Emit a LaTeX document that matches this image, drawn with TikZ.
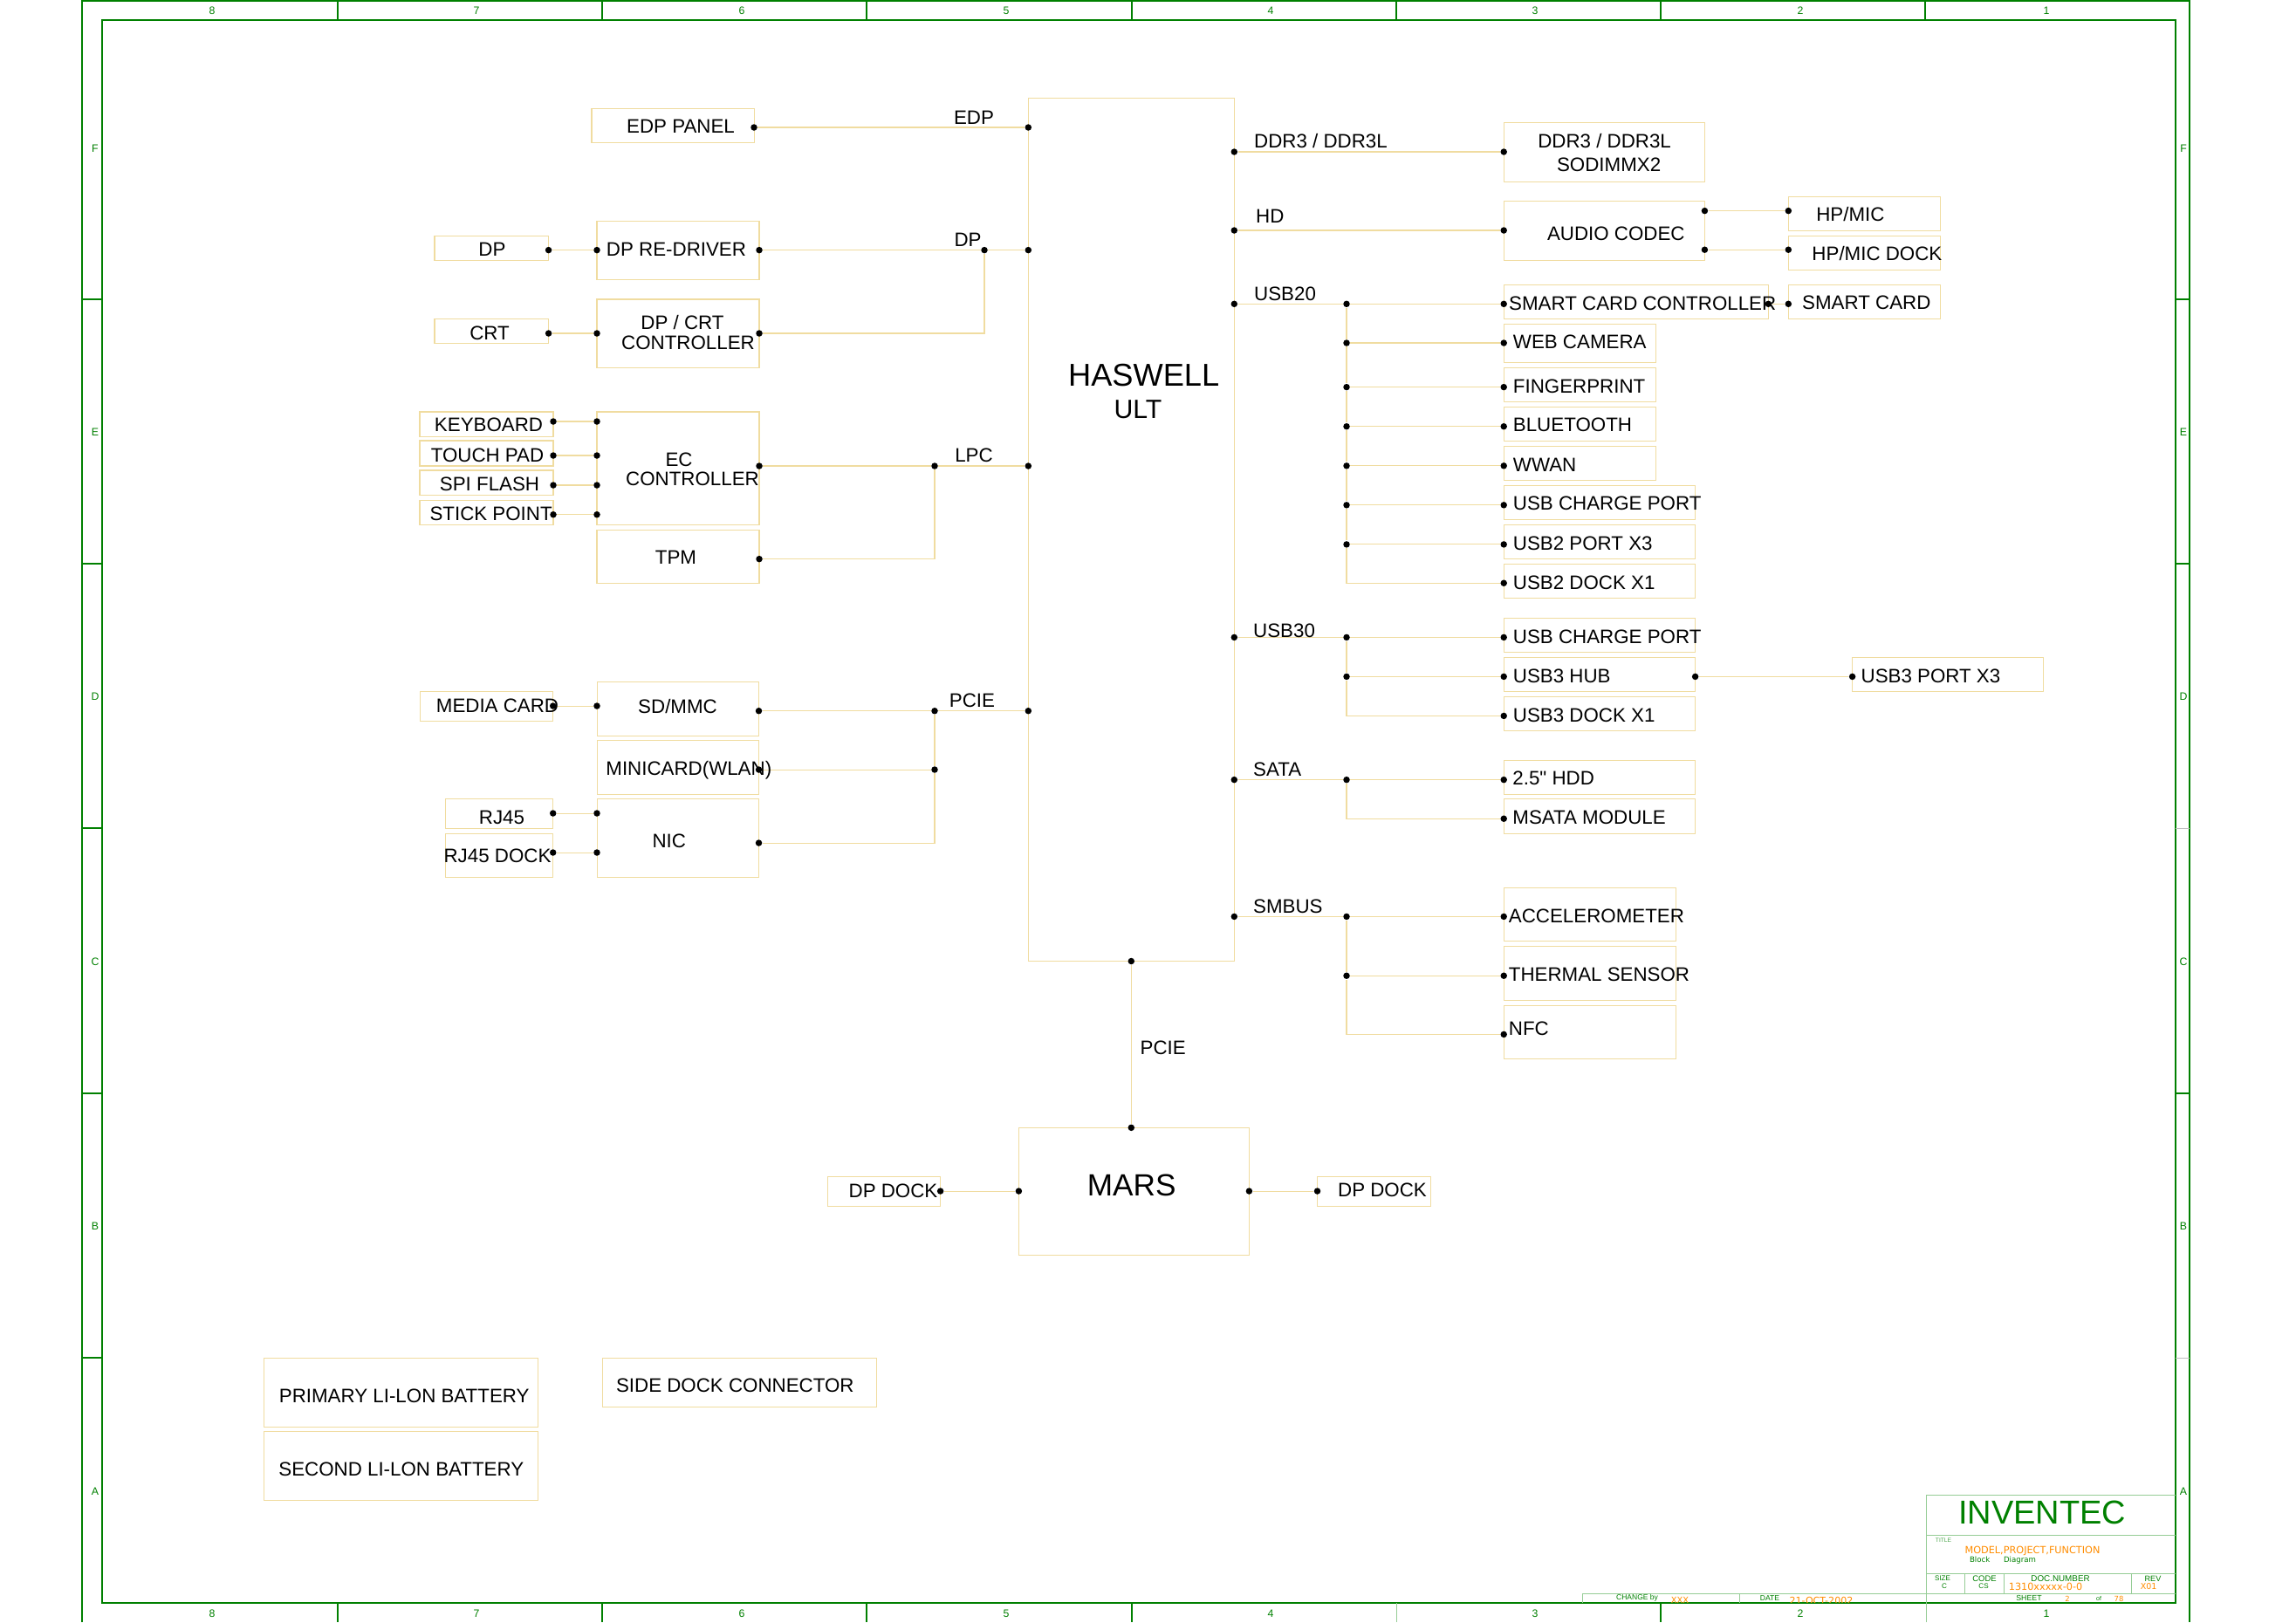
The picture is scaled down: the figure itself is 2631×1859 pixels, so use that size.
\documentclass[tikz,border=0pt]{standalone}
\usepackage{fontspec}
\setmainfont{Liberation Sans}
\newfontfamily\wideface{DejaVu Sans}
\usetikzlibrary{
    fit,
    positioning
}
\definecolor{framegreen}{RGB}{0,128,0}
\definecolor{titleline}{RGB}{150,205,150}
\definecolor{wirecolor}{RGB}{240,220,160}
\definecolor{fieldorange}{RGB}{255,140,0}
\tikzset{
    wire/.style={draw=wirecolor, line width=0.3pt},
    blockbox/.style={draw=wirecolor, line width=0.3pt, inner sep=0pt, rectangle},
    dotmark/.style={circle, fill=black, inner sep=0pt, minimum size=0.075cm},
    lbl/.style={inner sep=0pt, yshift=-0.015cm, font=\fontsize{6.35}{7.7}\selectfont},
    lblwest/.style={lbl, anchor=west, xshift=-0.015cm},
    bigtext/.style={inner sep=0pt, yshift=-0.015cm, font=\fontsize{10.3}{12}\selectfont},
    gridmark/.style={inner sep=0pt, text=framegreen, font=\fontsize{3.5}{4}\selectfont},
    titletext/.style={inner sep=0pt, text=framegreen, font=\fontsize{2.6}{3}\selectfont},
    fieldtext/.style={inner sep=0pt, text=fieldorange, font=\wideface\fontsize{3.1}{3.6}\selectfont}
}
\begin{document}
\begin{tikzpicture}[x=0.01cm, y=-0.01cm]
    \useasboundingbox (0,0) rectangle (2631,1859);
    % sheet frame
    \draw[framegreen, line width=0.68pt] (94,1859) -- (94,1) -- (2509,1) -- (2509,1859);
    \draw[framegreen, line width=0.55pt] (117,23) rectangle (2493,1837);
    \draw[framegreen, line width=0.48pt] (387,0) -- (387,23) (690,0) -- (690,23) (993,0) -- (993,23) (1297,0) -- (1297,23) (1600,0) -- (1600,23) (1903,0) -- (1903,23) (2206,0) -- (2206,23);
    \draw[framegreen, line width=0.48pt] (387,1837) -- (387,1859) (690,1837) -- (690,1859) (993,1837) -- (993,1859) (1297,1837) -- (1297,1859) (1903,1837) -- (1903,1859);
    \draw[titleline, line width=0.2pt] (1600,1837) -- (1600,1859);
    \draw[framegreen, line width=0.48pt] (94,343) -- (117,343) (94,646) -- (117,646) (94,949) -- (117,949) (94,1253) -- (117,1253) (94,1556) -- (117,1556);
    \draw[framegreen, line width=0.48pt] (2493,646) -- (2509,646) (2493,1253) -- (2509,1253);
    \draw[framegreen, line width=0.3pt] (2493,343) -- (2509,343);
    \draw[gray!50, line width=0.2pt] (2493,949) -- (2509,949) (2493,1556) -- (2509,1556);
    % grid marks
    \node[gridmark] (top8) at (243,12) {8};
    \node[gridmark] (top7) at (546,12) {7};
    \node[gridmark] (top6) at (850,12) {6};
    \node[gridmark] (top5) at (1153,12) {5};
    \node[gridmark] (top4) at (1456,12) {4};
    \node[gridmark] (top3) at (1759,12) {3};
    \node[gridmark] (top2) at (2063,12) {2};
    \node[gridmark] (top1) at (2345,12) {1};
    \node[gridmark] (bot8) at (243,1849) {8};
    \node[gridmark] (bot7) at (546,1849) {7};
    \node[gridmark] (bot6) at (850,1849) {6};
    \node[gridmark] (bot5) at (1153,1849) {5};
    \node[gridmark] (bot4) at (1456,1849) {4};
    \node[gridmark] (bot3) at (1759,1849) {3};
    \node[gridmark] (bot2) at (2063,1849) {2};
    \node[gridmark] (bot1) at (2345,1849) {1};
    \node[gridmark] (leftF) at (109,170) {F};
    \node[gridmark] (leftE) at (109,495) {E};
    \node[gridmark] (leftD) at (109,798) {D};
    \node[gridmark] (leftC) at (109,1102) {C};
    \node[gridmark] (leftB) at (109,1405) {B};
    \node[gridmark] (leftA) at (109,1709) {A};
    \node[gridmark] (rightF) at (2502,170) {F};
    \node[gridmark] (rightE) at (2502,495) {E};
    \node[gridmark] (rightD) at (2502,798) {D};
    \node[gridmark] (rightC) at (2502,1102) {C};
    \node[gridmark] (rightB) at (2502,1405) {B};
    \node[gridmark] (rightA) at (2502,1709) {A};
    % title block
    \draw[titleline, line width=0.3pt] (2207,1859) -- (2207,1713) -- (2493,1713) (2207,1759) -- (2493,1759) (2207,1803) -- (2493,1803) (1813,1826) -- (2493,1826);
    \draw[titleline, line width=0.3pt] (2251,1803) -- (2251,1826) (2296,1803) -- (2296,1826) (2442,1803) -- (2442,1826) (1813,1826) -- (1813,1837) (1993,1826) -- (1993,1837);
    \node[titletext, font=\fontsize{10.8}{13}\selectfont] (inventec) at (2340,1733) {INVENTEC};
    \node[titletext, font=\fontsize{1.9}{2.3}\selectfont, opacity=0.7] (titlehead) at (2227,1765) {TITLE};
    \node[fieldtext, font=\wideface\fontsize{3.2}{3.8}\selectfont] (titlefield) at (2329,1777) {MODEL,PROJECT,FUNCTION};
    \node[titletext, font=\wideface\fontsize{2.45}{3}\selectfont] (titlename) at (2295,1788) {Block\hspace{0.157cm}Diagram};
    \node[titletext, font=\fontsize{2.3}{2.8}\selectfont] (sizehead) at (2226,1809) {SIZE};
    \node[titletext, font=\fontsize{2.3}{2.8}\selectfont] (sizefield) at (2228,1818) {C};
    \node[titletext, font=\fontsize{2.7}{3.2}\selectfont] (codehead) at (2274,1809) {CODE};
    \node[titletext, font=\fontsize{2.3}{2.8}\selectfont] (codefield) at (2273,1818) {CS};
    \node[titletext, font=\fontsize{2.8}{3.4}\selectfont] (dochead) at (2361,1809) {DOC.NUMBER};
    \node[fieldtext, font=\wideface\fontsize{3.2}{3.8}\selectfont] (docfield) at (2344,1818) {1310xxxxx-0-0};
    \node[titletext] (revhead) at (2467,1809) {REV};
    \node[fieldtext, font=\wideface\fontsize{2.7}{3.2}\selectfont] (revfield) at (2462,1818) {X01};
    \node[titletext, font=\fontsize{2.5}{3}\selectfont] (sheethead) at (2325,1831) {SHEET};
    \node[fieldtext, font=\wideface\fontsize{2.4}{3}\selectfont] (sheetno) at (2369,1832) {2};
    \node[titletext, font=\fontsize{2}{2.4}\selectfont] (sheetof) at (2405,1832) {of};
    \node[fieldtext, font=\wideface\fontsize{2.4}{3}\selectfont] (sheetall) at (2428,1832) {78};
    \node[titletext, font=\fontsize{2.42}{3}\selectfont] (changehead) at (1876,1831) {CHANGE by};
    \node[titletext, font=\fontsize{2.45}{3}\selectfont] (datehead) at (2028,1831) {DATE};
    \begin{scope}
        \clip (1813,1826) rectangle (2206,1836);
        \node[fieldtext, font=\wideface\fontsize{2.8}{3.4}\selectfont] (changefield) at (1925,1834) {XXX};
        \node[fieldtext, font=\wideface\fontsize{3.15}{3.8}\selectfont] (datefield) at (2087,1834) {21-OCT-2002};
    \end{scope}
    % blocks, left side
    \node[blockbox, fit={(678,124.5) (864.5,163.4)}] (edppanel) {};
    \node[blockbox, fit={(498,270.5) (628.6,298.7)}] (dpport) {};
    \node[blockbox, fit={(684,253.6) (870,320.5)}] (dpredriver) {};
    \node[blockbox, fit={(498,365.6) (628.6,393.8)}] (crtport) {};
    \node[blockbox, fit={(684,343) (870,421.4)}] (dpcrtctrl) {};
    \node[blockbox, fit={(481,472) (634,500.4)}] (keyboard) {};
    \node[blockbox, fit={(481,505) (634,534)}] (touchpad) {};
    \node[blockbox, fit={(481,539) (634,567.4)}] (spiflash) {};
    \node[blockbox, fit={(481,573.7) (634,601.3)}] (stickpoint) {};
    \node[blockbox, fit={(684,472) (870,601.3)}] (ecctrl) {};
    \node[blockbox, fit={(684,607.6) (870,668.3)}] (tpm) {};
    \node[blockbox, fit={(481.6,792.4) (633.7,826.3)}] (mediacard) {};
    \node[blockbox, fit={(684.5,781) (869.5,843.3)}] (sdmmc) {};
    \node[blockbox, fit={(684.5,848.7) (869.5,910.3)}] (minicard) {};
    \node[blockbox, fit={(684.5,915.6) (869.5,1005.4)}] (nic) {};
    \node[blockbox, fit={(510.7,915.6) (633.7,949.5)}] (rjport) {};
    \node[blockbox, fit={(510.7,955.4) (633.7,1005.4)}] (rjdock) {};
    % blocks, centre
    \node[blockbox, fit={(1178.3,112.3) (1414.3,1101.5)}] (haswell) {};
    \node[blockbox, fit={(1167.4,1292.3) (1431.4,1438.3)}] (mars) {};
    \node[blockbox, fit={(948.5,1348.7) (1077.6,1382.6)}] (dockleft) {};
    \node[blockbox, fit={(1509.5,1348.3) (1639.6,1382.3)}] (dockright) {};
    % blocks, right side
    \node[blockbox, fit={(1723.2,140.3) (1953.4,208.3)}] (sodimm) {};
    \node[blockbox, fit={(1723.2,230.5) (1953.4,298.5)}] (codec) {};
    \node[blockbox, fit={(2049.3,225.3) (2223.8,264.5)}] (hpmic) {};
    \node[blockbox, fit={(2049.3,270.4) (2223.8,309.6)}] (hpdock) {};
    \node[blockbox, fit={(1723.2,326.6) (2026.3,365.3)}] (smartctrl) {};
    \node[blockbox, fit={(2049.3,326.6) (2223.8,365.3)}] (smartcard) {};
    \node[blockbox, fit={(1723.2,371.3) (1897.7,415.5)}] (webcam) {};
    \node[blockbox, fit={(1723.2,421.5) (1897.7,460.2)}] (fingerprint) {};
    \node[blockbox, fit={(1723.2,466.5) (1897.7,505.3)}] (bluetooth) {};
    \node[blockbox, fit={(1723.2,511.2) (1897.7,550.4)}] (wwan) {};
    \node[blockbox, fit={(1723.2,556.3) (1942.6,595)}] (chargetwo) {};
    \node[blockbox, fit={(1723.2,601.4) (1942.6,640.5)}] (usbtwoport) {};
    \node[blockbox, fit={(1723.2,646.5) (1942.6,685.2)}] (usbtwodock) {};
    \node[blockbox, fit={(1723.2,708.2) (1942.6,747.5)}] (chargethree) {};
    \node[blockbox, fit={(1723.2,753.2) (1942.6,792.5)}] (usbhub) {};
    \node[blockbox, fit={(2122.6,753.2) (2341.3,792.5)}] (usbthreeport) {};
    \node[blockbox, fit={(1723.2,798.2) (1942.6,837.5)}] (usbthreedock) {};
    \node[blockbox, fit={(1723.2,871.4) (1942.6,910.7)}] (hdd) {};
    \node[blockbox, fit={(1723.2,915.4) (1942.6,955.4)}] (msata) {};
    \node[blockbox, fit={(1723.2,1017.5) (1920.4,1078.2)}] (accel) {};
    \node[blockbox, fit={(1723.2,1084.3) (1920.4,1146.8)}] (thermal) {};
    \node[blockbox, fit={(1723.2,1152.5) (1920.4,1213.2)}] (nfc) {};
    % blocks, bottom
    \node[blockbox, fit={(302.3,1556.3) (616.4,1635.3)}] (battone) {};
    \node[blockbox, fit={(302.3,1640.3) (616.4,1719.3)}] (batttwo) {};
    \node[blockbox, fit={(690.6,1556.3) (1004.7,1612.3)}] (sidedock) {};
    % pins, left side
    \node[dotmark] (edpout) at (864,146) {};
    \node[dotmark] (edpin) at (1178.3,146) {};
    \node[dotmark] (dpout) at (628.6,286.6) {};
    \node[dotmark] (redrvin) at (684,286.6) {};
    \node[dotmark] (redrvout) at (870,286.6) {};
    \node[dotmark] (dpjoin) at (1128,286.6) {};
    \node[dotmark] (dpin) at (1178.3,286.6) {};
    \node[dotmark] (crtout) at (628.6,382) {};
    \node[dotmark] (crtin) at (684,382) {};
    \node[dotmark] (crtctrlout) at (870,382) {};
    \node[dotmark] (kbdout) at (634,483) {};
    \node[dotmark] (kbdin) at (684,483) {};
    \node[dotmark] (touchout) at (634,522) {};
    \node[dotmark] (touchin) at (684,522) {};
    \node[dotmark] (spiout) at (634,556) {};
    \node[dotmark] (spiin) at (684,556) {};
    \node[dotmark] (stickout) at (634,589.7) {};
    \node[dotmark] (stickin) at (684,589.7) {};
    \node[dotmark] (ecout) at (870,534) {};
    \node[dotmark] (lpcjoin) at (1071,534) {};
    \node[dotmark] (lpcin) at (1178.3,534) {};
    \node[dotmark] (tpmout) at (870,640.6) {};
    \node[dotmark] (mediaout) at (633.7,809) {};
    \node[dotmark] (sdin) at (684,809) {};
    \node[dotmark] (sdout) at (869.5,814.7) {};
    \node[dotmark] (pciejoin) at (1071,814.7) {};
    \node[dotmark] (pciein) at (1178.3,814.7) {};
    \node[dotmark] (wlanout) at (869.5,882) {};
    \node[dotmark] (wlanjoin) at (1071,882) {};
    \node[dotmark] (nicout) at (869.5,966) {};
    \node[dotmark] (rjout) at (633.7,932) {};
    \node[dotmark] (rjin) at (684,932) {};
    \node[dotmark] (rjdockout) at (633.7,977) {};
    \node[dotmark] (rjdockin) at (684,977) {};
    % pins, centre
    \node[dotmark] (marsup) at (1296.3,1101.5) {};
    \node[dotmark] (marsdown) at (1296.3,1292.3) {};
    \node[dotmark] (dockleftout) at (1077.6,1365) {};
    \node[dotmark] (marsleft) at (1167.4,1365) {};
    \node[dotmark] (marsright) at (1431.4,1365) {};
    \node[dotmark] (dockrightin) at (1509.5,1365) {};
    % pins, right side
    \node[dotmark] (ddrout) at (1414.3,174) {};
    \node[dotmark] (ddrin) at (1723.2,174) {};
    \node[dotmark] (hdout) at (1414.3,264) {};
    \node[dotmark] (hdin) at (1723.2,264) {};
    \node[dotmark] (codecup) at (1953.4,241.6) {};
    \node[dotmark] (hpin) at (2049.3,241.6) {};
    \node[dotmark] (codecdown) at (1953.4,286.2) {};
    \node[dotmark] (hpdockin) at (2049.3,286.2) {};
    \node[dotmark] (usbtwoout) at (1414.3,348.3) {};
    \node[dotmark] (jsmart) at (1543,348.3) {};
    \node[dotmark] (smartin) at (1723.2,348.3) {};
    \node[dotmark] (smartout) at (2026.3,348.3) {};
    \node[dotmark] (cardin) at (2049.3,348.3) {};
    \node[dotmark] (jweb) at (1543,393) {};
    \node[dotmark] (webin) at (1723.2,393) {};
    \node[dotmark] (jfinger) at (1543,443.6) {};
    \node[dotmark] (fingerin) at (1723.2,443.6) {};
    \node[dotmark] (jblue) at (1543,488.7) {};
    \node[dotmark] (bluein) at (1723.2,488.7) {};
    \node[dotmark] (jwwan) at (1543,533.8) {};
    \node[dotmark] (wwanin) at (1723.2,533.8) {};
    \node[dotmark] (jchargetwo) at (1543,578.8) {};
    \node[dotmark] (chargetwoin) at (1723.2,578.8) {};
    \node[dotmark] (jporttwo) at (1543,623.9) {};
    \node[dotmark] (porttwoin) at (1723.2,623.9) {};
    \node[dotmark] (docktwoin) at (1723.2,668.2) {};
    \node[dotmark] (usbthreeout) at (1414.3,730.4) {};
    \node[dotmark] (jchargethree) at (1543,730.4) {};
    \node[dotmark] (chargethreein) at (1723.2,730.4) {};
    \node[dotmark] (jhub) at (1543,775.4) {};
    \node[dotmark] (hubin) at (1723.2,775.4) {};
    \node[dotmark] (hubout) at (1942.6,775.4) {};
    \node[dotmark] (portthreein) at (2122.6,775.4) {};
    \node[dotmark] (dockthreein) at (1723.2,820.4) {};
    \node[dotmark] (sataout) at (1414.3,893.6) {};
    \node[dotmark] (jhdd) at (1543,893.6) {};
    \node[dotmark] (hddin) at (1723.2,893.6) {};
    \node[dotmark] (msatain) at (1723.2,938.2) {};
    \node[dotmark] (smbout) at (1414.3,1050.4) {};
    \node[dotmark] (jaccel) at (1543,1050.4) {};
    \node[dotmark] (accelin) at (1723.2,1050.4) {};
    \node[dotmark] (jtherm) at (1543,1118.2) {};
    \node[dotmark] (thermin) at (1723.2,1118.2) {};
    \node[dotmark] (nfcin) at (1723.2,1185.4) {};
    % connectors, left side
    \draw[wire] (edpout) -- (edpin);
    \draw[wire] (dpout) -- (redrvin);
    \draw[wire] (redrvout) -- (dpjoin) -- (dpin);
    \draw[wire] (crtout) -- (crtin);
    \draw[wire] (crtctrlout) -| (dpjoin);
    \draw[wire] (kbdout) -- (kbdin);
    \draw[wire] (touchout) -- (touchin);
    \draw[wire] (spiout) -- (spiin);
    \draw[wire] (stickout) -- (stickin);
    \draw[wire] (ecout) -- (lpcjoin) -- (lpcin);
    \draw[wire] (tpmout) -| (lpcjoin);
    \draw[wire] (mediaout) -- (sdin);
    \draw[wire] (sdout) -- (pciejoin) -- (pciein);
    \draw[wire] (wlanout) -- (wlanjoin);
    \draw[wire] (pciejoin) -- (wlanjoin);
    \draw[wire] (nicout) -| (wlanjoin);
    \draw[wire] (rjout) -- (rjin);
    \draw[wire] (rjdockout) -- (rjdockin);
    % connectors, centre
    \draw[wire] (marsup) -- (marsdown);
    \draw[wire] (dockleftout) -- (marsleft);
    \draw[wire] (marsright) -- (dockrightin);
    % connectors, right side
    \draw[wire] (ddrout) -- (ddrin);
    \draw[wire] (hdout) -- (hdin);
    \draw[wire] (codecup) -- (hpin);
    \draw[wire] (codecdown) -- (hpdockin);
    \draw[wire] (usbtwoout) -- (jsmart) -- (smartin);
    \draw[wire] (smartout) -- (cardin);
    \draw[wire] (jweb) -- (webin);
    \draw[wire] (jfinger) -- (fingerin);
    \draw[wire] (jblue) -- (bluein);
    \draw[wire] (jwwan) -- (wwanin);
    \draw[wire] (jchargetwo) -- (chargetwoin);
    \draw[wire] (jporttwo) -- (porttwoin);
    \draw[wire] (jsmart) -- (jweb) -- (jfinger) -- (jblue) -- (jwwan) -- (jchargetwo) -- (jporttwo);
    \draw[wire] (jporttwo) |- (docktwoin);
    \draw[wire] (usbthreeout) -- (jchargethree) -- (chargethreein);
    \draw[wire] (jhub) -- (hubin);
    \draw[wire] (hubout) -- (portthreein);
    \draw[wire] (jchargethree) -- (jhub);
    \draw[wire] (jhub) |- (dockthreein);
    \draw[wire] (sataout) -- (jhdd) -- (hddin);
    \draw[wire] (jhdd) |- (msatain);
    \draw[wire] (smbout) -- (jaccel) -- (accelin);
    \draw[wire] (jtherm) -- (thermin);
    \draw[wire] (jaccel) -- (jtherm);
    \draw[wire] (jtherm) |- (nfcin);
    % texts, left side
    \node[lbl] (edppaneltxt) at (780,143) {EDP PANEL};
    \node[lbl] (edptxt) at (1116,133) {EDP};
    \node[lbl] (dpporttxt) at (564,284) {DP};
    \node[lbl] (redrivertxt) at (775,284) {DP RE-DRIVER};
    \node[lbl] (dpbustxt) at (1109,273) {DP};
    \node[lbl] (crtporttxt) at (561,380) {CRT};
    \node[lbl] (dpcrttxt) at (782,368) {DP / CRT};
    \node[lbl] (crtctrltxt) at (788.5,391.5) {CONTROLLER};
    \node[lbl] (keyboardtxt) at (560,485) {KEYBOARD};
    \node[lbl] (touchpadtxt) at (558.5,520) {TOUCH PAD};
    \node[lbl] (spiflashtxt) at (561,553.5) {SPI FLASH};
    \node[lbl] (sticktxt) at (562.6,587.4) {STICK POINT};
    \node[lbl] (ectxt) at (778,525) {EC};
    \node[lbl] (ecctrltxt) at (793.5,547) {CONTROLLER};
    \node[lbl] (lpctxt) at (1116,520) {LPC};
    \node[lbl] (tpmtxt) at (774.5,637.4) {TPM};
    \node[lbl] (mediatxt) at (570,807.5) {MEDIA CARD};
    \node[lbl] (sdtxt) at (776.5,808.4) {SD/MMC};
    \node[lbl] (pcietxt) at (1114,801.3) {PCIE};
    \node[lbl] (minicardtxt) at (789.3,880.8) {MINICARD(WLAN)};
    \node[lbl] (rjtxt) at (575,935.3) {RJ45};
    \node[lbl] (rjdocktxt) at (570,979.4) {RJ45 DOCK};
    \node[lbl] (nictxt) at (766.8,962.4) {NIC};
    % texts, centre
    \node[bigtext] (haswelltxt) at (1310.7,429) {HASWELL};
    \node[lbl, font=\fontsize{8.6}{10}\selectfont] (ulttxt) at (1304,468) {ULT};
    \node[lbl] (marspcietxt) at (1332.7,1199) {PCIE};
    \node[bigtext, font=\fontsize{10}{12}\selectfont] (marstxt) at (1296.7,1357.3) {MARS};
    \node[lbl] (dplefttxt) at (1023.5,1362.8) {DP DOCK};
    \node[lbl] (dprighttxt) at (1584,1362.3) {DP DOCK};
    % texts, right side
    \node[lblwest] (ddrbustxt) at (1438,159.7) {DDR3 / DDR3L};
    \node[lblwest] (hdtxt) at (1440,246) {HD};
    \node[lblwest] (usbtwotxt) at (1438,335) {USB20};
    \node[lblwest] (usbthreetxt) at (1437,721) {USB30};
    \node[lblwest] (satatxt) at (1437,880) {SATA};
    \node[lblwest] (smbustxt) at (1437,1036.8) {SMBUS};
    \node[lbl] (sodimmtxt) at (1838.6,159.5) {DDR3 / DDR3L};
    \node[lbl] (sodimmtwotxt) at (1843.6,187) {SODIMMX2};
    \node[lbl] (codectxt) at (1851.8,266.3) {AUDIO CODEC};
    \node[lbl] (hpmictxt) at (2120.4,244) {HP/MIC};
    \node[lbl] (hpdocktxt) at (2150.9,289.2) {HP/MIC DOCK};
    \node[lbl] (smartctrltxt) at (1882.2,346) {SMART CARD CONTROLLER};
    \node[lbl] (smartcardtxt) at (2138.8,345) {SMART CARD};
    \node[lblwest] (webtxt) at (1734.7,390.4) {WEB CAMERA};
    \node[lblwest] (fingertxt) at (1734.7,441.2) {FINGERPRINT};
    \node[lblwest] (bluetxt) at (1734.7,485.3) {BLUETOOTH};
    \node[lblwest] (wwantxt) at (1734.7,531) {WWAN};
    \node[lblwest] (chargetwotxt) at (1734.7,575.5) {USB CHARGE PORT};
    \node[lblwest] (porttwotxt) at (1734.7,621.2) {USB2 PORT X3};
    \node[lblwest] (docktwotxt) at (1734.7,666.2) {USB2 DOCK X1};
    \node[lblwest] (chargethreetxt) at (1734.7,728.2) {USB CHARGE PORT};
    \node[lblwest] (hubtxt) at (1734.7,773.2) {USB3 HUB};
    \node[lblwest] (portthreetxt) at (2133.4,773.2) {USB3 PORT X3};
    \node[lblwest] (dockthreetxt) at (1734.7,818.2) {USB3 DOCK X1};
    \node[lblwest] (hddtxt) at (1734.2,890.4) {2.5\textquotedbl{} HDD};
    \node[lblwest] (msatatxt) at (1734.2,935) {MSATA MODULE};
    \node[lblwest] (acceltxt) at (1729.7,1048.6) {ACCELEROMETER};
    \node[lblwest] (thermtxt) at (1729.7,1115.4) {THERMAL SENSOR};
    \node[lblwest] (nfctxt) at (1729.7,1177) {NFC};
    % texts, bottom
    \node[lbl] (battonetxt) at (463.2,1597.8) {PRIMARY LI-LON BATTERY};
    \node[lbl] (batttwotxt) at (459.8,1681.8) {SECOND LI-LON BATTERY};
    \node[lbl] (sidedocktxt) at (842.3,1586.5) {SIDE DOCK CONNECTOR};
\end{tikzpicture}
\end{document}
